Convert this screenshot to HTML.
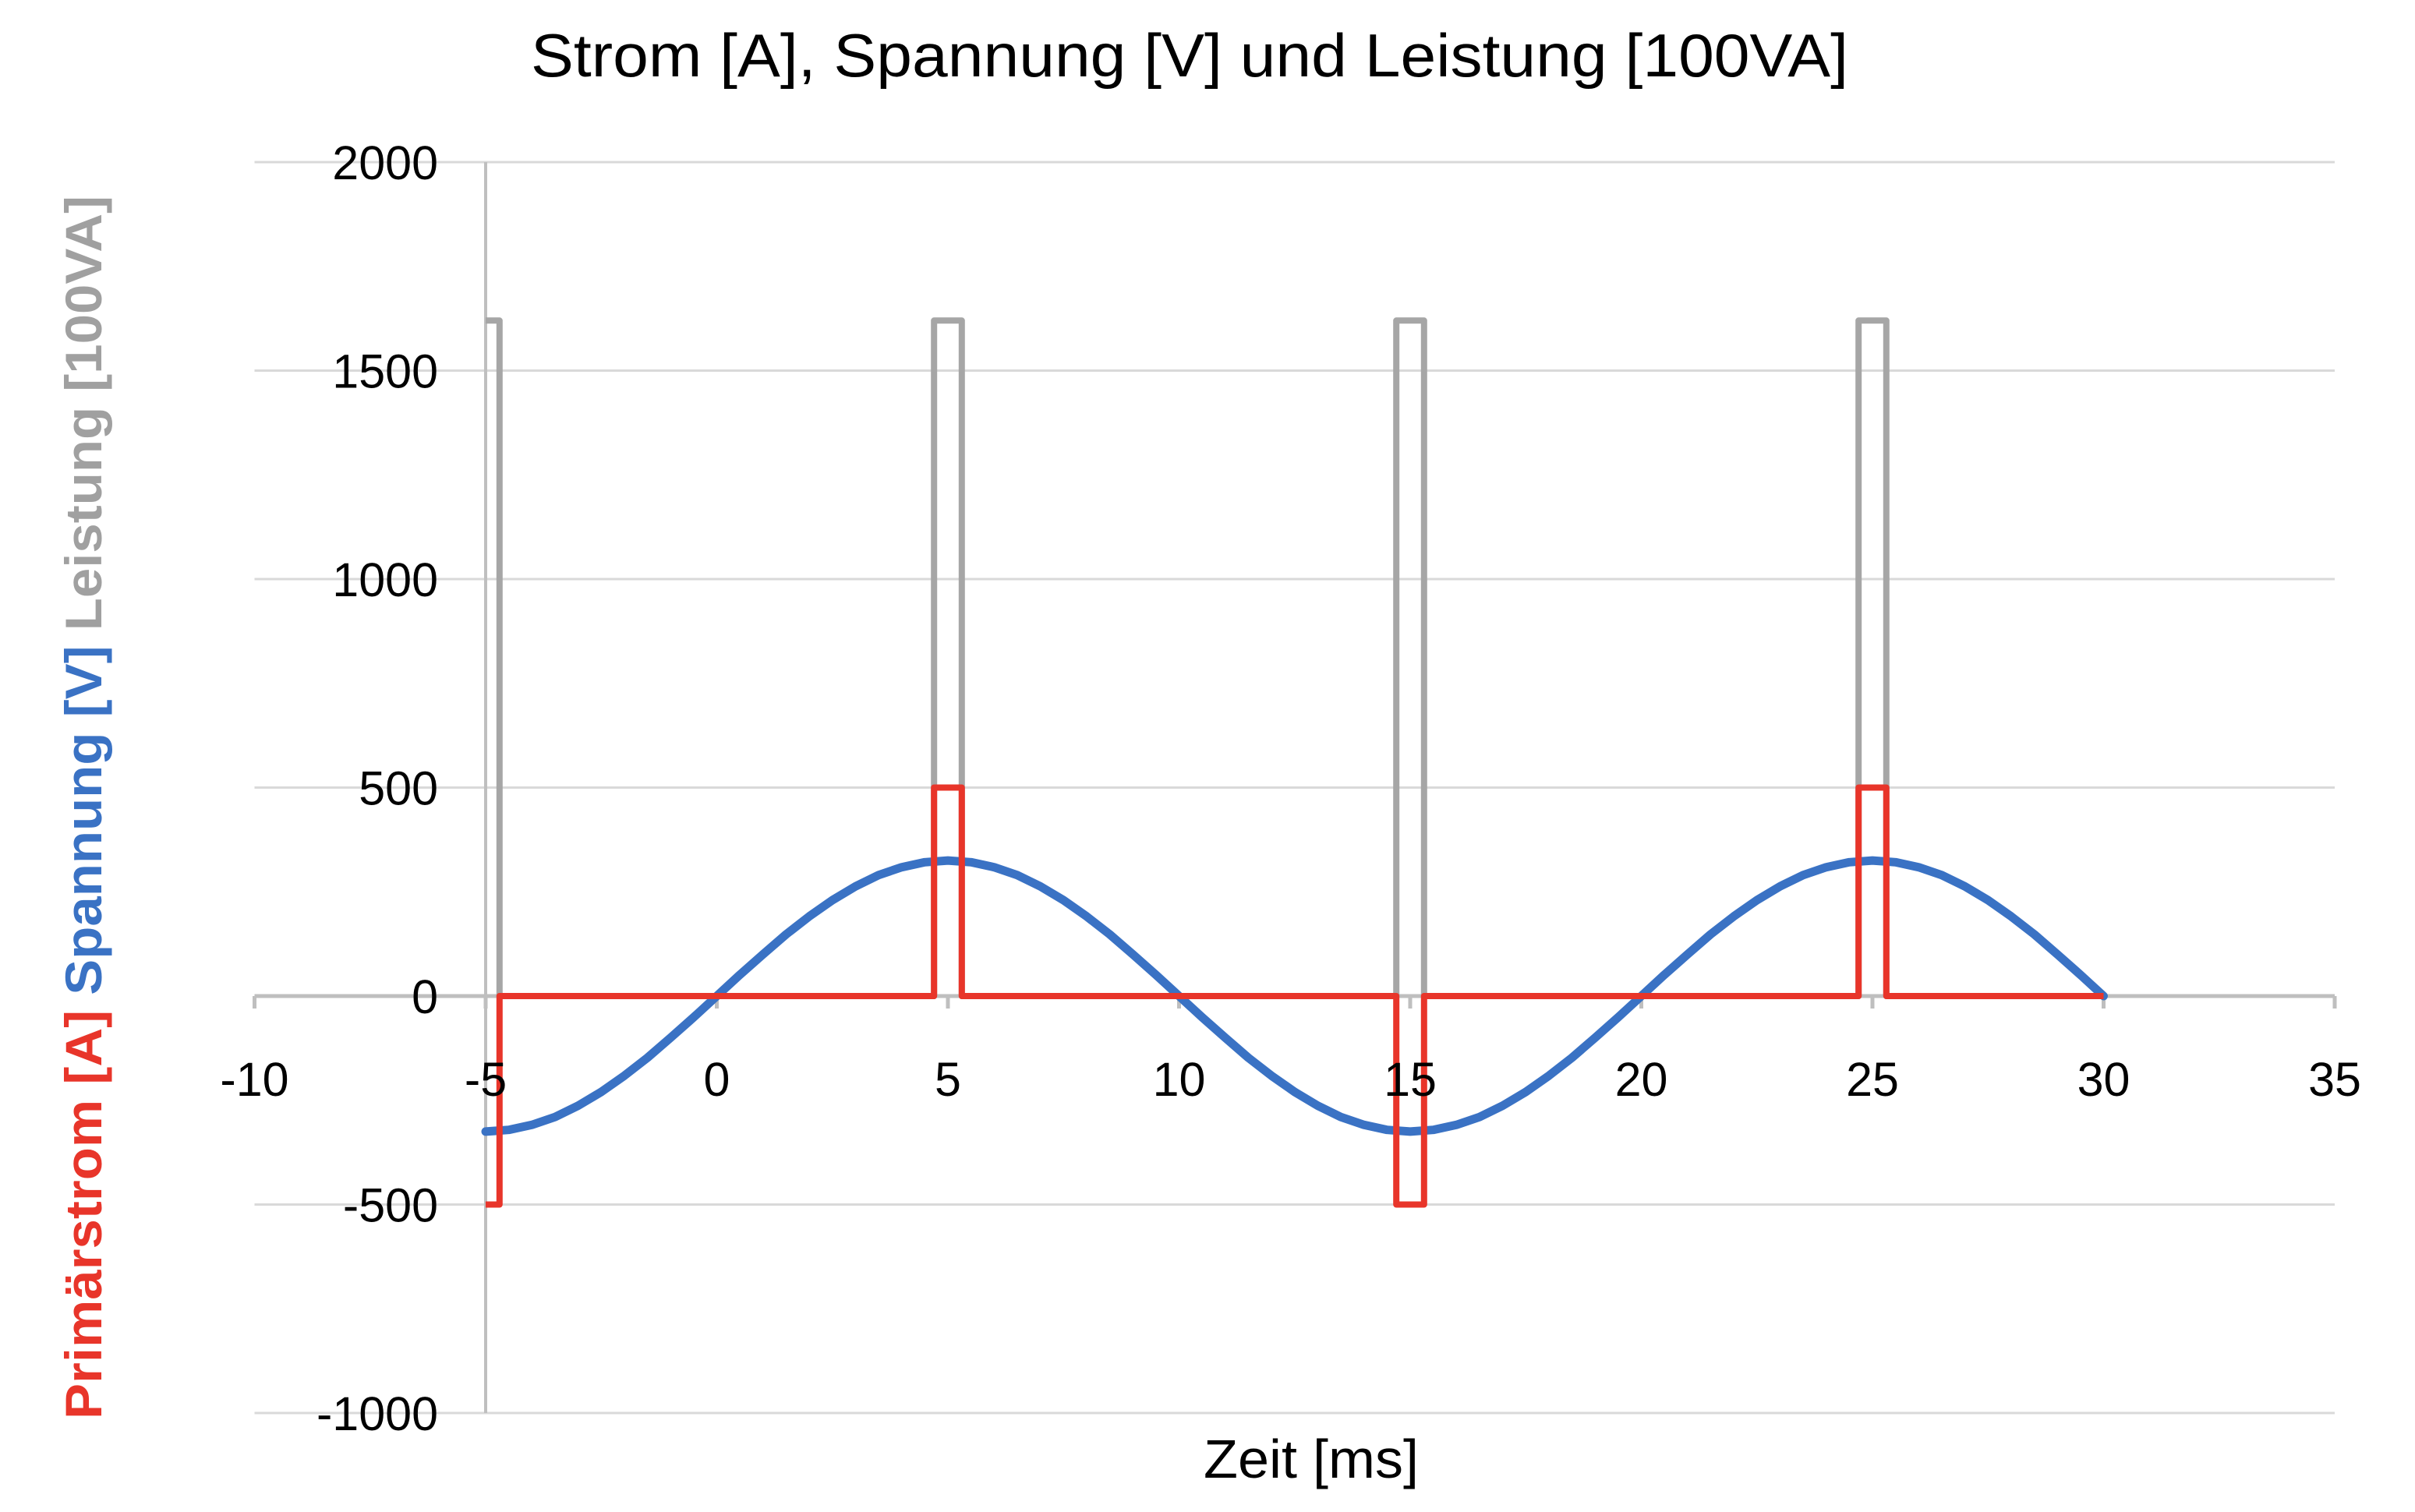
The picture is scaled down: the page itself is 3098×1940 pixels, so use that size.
<!DOCTYPE html>
<html><head><meta charset="utf-8"><style>
html,body{margin:0;padding:0;background:#fff;}
svg{display:block;font-family:"Liberation Sans",sans-serif;}
</style></head><body>
<svg id="chart" width="3098" height="1940" viewBox="0 0 3098 1940">
<text x="1526" y="98" font-size="78" text-anchor="middle" fill="#000" textLength="1690" lengthAdjust="spacingAndGlyphs">Strom [A], Spannung [V] und Leistung [100VA]</text>
<text transform="translate(130,1036) rotate(-90)" font-size="66" font-weight="bold" text-anchor="middle" textLength="1570" lengthAdjust="spacingAndGlyphs"><tspan fill="#e8352a">Primärstrom [A]</tspan><tspan fill="#3a72c4"> Spannung [V]</tspan><tspan fill="#a0a0a0"> Leistung [100VA]</tspan></text>
<text x="1682" y="1896" font-size="70" text-anchor="middle" fill="#000" textLength="276" lengthAdjust="spacingAndGlyphs">Zeit [ms]</text>
<g id="grid"></g><g id="axes"></g><g id="series"></g><g id="labels"></g>
</svg>
<script>
const xTicks = [-10,-5,0,5,10,15,20,25,30,35];
const yTicks = [-1000,-500,0,500,1000,1500,2000];
const powerT = [-5,-4.7,-4.7,4.7,4.7,5.3,5.3,14.7,14.7,15.3,15.3,24.7,24.7,25.3,25.3,30];
const powerV = [1620,1620,0,0,1620,1620,0,0,1620,1620,0,0,1620,1620,0,0];
const currT = [-5,-4.7,-4.7,4.7,4.7,5.3,5.3,14.7,14.7,15.3,15.3,24.7,24.7,25.3,25.3,30];
const currV = [-500,-500,0,0,500,500,0,0,-500,-500,0,0,500,500,0,0];
const voltStart = -5, voltStep = 0.5;
const voltV = [-325,-321,-309,-290,-263,-230,-191,-148,-100,-51,0,51,100,148,191,230,263,290,309,321,325,
 321,309,290,263,230,191,148,100,51,0,-51,-100,-148,-191,-230,-263,-290,-309,-321,-325,
 -321,-309,-290,-263,-230,-191,-148,-100,-51,0,51,100,148,191,230,263,290,309,321,325,
 321,309,290,263,230,191,148,100,51,0];

const NS='http://www.w3.org/2000/svg';
const X = t => 623 + (t + 5) * 59.3;
const Y = v => 1278 - v * 0.535;
function mk(tag, attrs, parent){const e=document.createElementNS(NS,tag);for(const k in attrs)e.setAttribute(k,attrs[k]);document.getElementById(parent).appendChild(e);return e;}

yTicks.forEach(v=>{
  if(v!==0){const g=mk('line',{x1:X(-10),x2:X(35),y1:Y(v),y2:Y(v),stroke:'#d9d9d9','stroke-width':3},'grid');
  
  }
  const t=mk('text',{x:562,y:Y(v)+22,'font-size':61,'text-anchor':'end',fill:'#000'},'labels');
  t.textContent=v;
  
  
});
const va=mk('line',{x1:X(-5),x2:X(-5),y1:Y(2000),y2:Y(-1000),stroke:'#bfbfbf','stroke-width':4},'axes');


const ha=mk('line',{x1:X(-10),x2:X(35),y1:Y(0),y2:Y(0),stroke:'#bfbfbf','stroke-width':5},'axes');


xTicks.forEach(t=>{
  const k=mk('line',{x1:X(t),x2:X(t),y1:Y(0),y2:Y(0)+16,stroke:'#bfbfbf','stroke-width':5},'axes');
  
  
  const l=mk('text',{x:X(t),y:1406,'font-size':61,'text-anchor':'middle',fill:'#000'},'labels');
  l.textContent=t;
  
  
});
function pts(ts,vs){return ts.map((t,i)=>X(t).toFixed(1)+','+Y(vs[i]).toFixed(1)).join(' ');}
const pw=mk('polyline',{points:pts(powerT,powerV),fill:'none',stroke:'#a6a6a6','stroke-width':8,'stroke-linejoin':'round'},'series');


const voltT = voltV.map((_,i)=>voltStart+i*voltStep);
const vl=mk('polyline',{points:pts(voltT,voltV),fill:'none',stroke:'#3a72c4','stroke-width':11,'stroke-linejoin':'round','stroke-linecap':'round'},'series');


const cu=mk('polyline',{points:pts(currT,currV),fill:'none',stroke:'#e8352a','stroke-width':8,'stroke-linejoin':'round'},'series');


</script>
</body></html>
